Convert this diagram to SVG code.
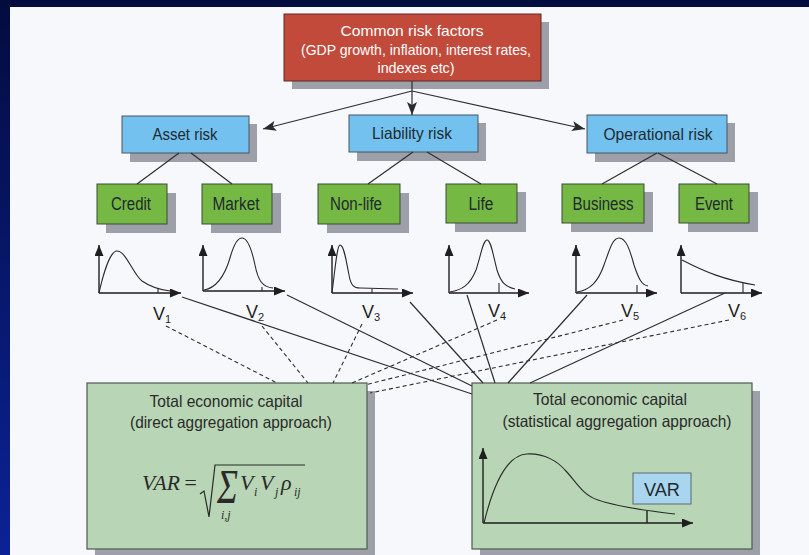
<svg xmlns="http://www.w3.org/2000/svg" width="809" height="555" viewBox="0 0 809 555">
<defs>
<linearGradient id="lg" x1="0" y1="0" x2="0" y2="1">
<stop offset="0" stop-color="#030c3f"/>
<stop offset="1" stop-color="#0b2296"/>
</linearGradient>
<marker id="ax" markerUnits="userSpaceOnUse" markerWidth="11" markerHeight="9" refX="11" refY="4.5" orient="auto">
<path d="M0,0 L11,4.5 L0,9 z" fill="#1e1e1e"/>
</marker>
<marker id="ar" markerUnits="userSpaceOnUse" markerWidth="13" markerHeight="10" refX="13" refY="5" orient="auto">
<path d="M0,0 L13,5 L0,10 L3,5 z" fill="#2a2a2a"/>
</marker>
<style>
.sh{fill:#9d9fa9}
.red{fill:#c24a3b;stroke:#5a2a22;stroke-width:1}
.blue{fill:#72c1ee;stroke:#4a5560;stroke-width:1}
.green{fill:#75b843;stroke:#3f4a38;stroke-width:1}
.big{fill:#b8d5b5;stroke:#4f5a50;stroke-width:1.2}
.var{fill:#a9d5ee;stroke:#5d6870;stroke-width:1}
.t{font-family:"Liberation Sans",Arial,sans-serif;fill:#1f2a30;text-anchor:middle}
.tw{font-family:"Liberation Sans",Arial,sans-serif;fill:#ffffff;text-anchor:middle;font-size:15px}
.tb{font-size:16.5px}
.tg{font-size:18px}
.tt{font-size:16.5px;fill:#2a2a2a}
.vl{font-family:"Liberation Sans",Arial,sans-serif;fill:#1f1f1f;font-size:18px}
.vs{font-size:11px}
.m{font-family:"Liberation Serif","Times New Roman",serif;fill:#2a2a2a;font-style:italic}
.ln{stroke:#2e2e2e;stroke-width:1.2;fill:none}
.ds{stroke:#2e2e2e;stroke-width:1.1;fill:none;stroke-dasharray:4,3}
.axl{stroke:#1e1e1e;stroke-width:1.4;fill:none}
.cv{stroke:#2a2a2a;stroke-width:1.1;fill:none}
</style>
</defs>

<rect x="0" y="0" width="809" height="555" fill="#f7f8fc"/>
<rect x="0" y="0" width="809" height="7" fill="#030c3f"/>
<rect x="0" y="0" width="10" height="555" fill="url(#lg)"/>

<g id="n-common">
<rect class="sh" x="292" y="22" width="257" height="67"/>
<rect class="red" x="284" y="14" width="257" height="67"/>
<text class="tw" x="412" y="36" textLength="143" lengthAdjust="spacingAndGlyphs">Common risk factors</text>
<text class="tw" x="416" y="55" textLength="230" lengthAdjust="spacingAndGlyphs">(GDP growth, inflation, interest rates,</text>
<text class="tw" x="416" y="73" textLength="77" lengthAdjust="spacingAndGlyphs">indexes etc)</text>
</g>

<g id="n-asset">
<rect class="sh" x="130" y="124" width="127" height="38"/>
<rect class="blue" x="122" y="116" width="127" height="37"/>
<text class="t tb" x="185" y="140" textLength="65" lengthAdjust="spacingAndGlyphs">Asset risk</text>
</g>
<g id="n-liability">
<rect class="sh" x="357" y="123" width="129" height="38"/>
<rect class="blue" x="349" y="115" width="129" height="37"/>
<text class="t tb" x="412" y="139" textLength="80" lengthAdjust="spacingAndGlyphs">Liability risk</text>
</g>
<g id="n-operational">
<rect class="sh" x="595" y="123" width="140" height="39"/>
<rect class="blue" x="587" y="115" width="140" height="38"/>
<text class="t tb" x="658" y="140" textLength="109" lengthAdjust="spacingAndGlyphs">Operational risk</text>
</g>

<g id="n-credit">
<rect class="sh" x="106" y="193" width="70" height="40"/>
<rect class="green" x="97" y="184" width="70" height="40"/>
<text class="t tg" x="131" y="210" textLength="40" lengthAdjust="spacingAndGlyphs">Credit</text>
</g>
<g id="n-market">
<rect class="sh" x="211" y="193" width="70" height="40"/>
<rect class="green" x="202" y="184" width="70" height="40"/>
<text class="t tg" x="236" y="210" textLength="47" lengthAdjust="spacingAndGlyphs">Market</text>
</g>
<g id="n-nonlife">
<rect class="sh" x="327" y="193" width="82" height="40"/>
<rect class="green" x="318" y="184" width="82" height="40"/>
<text class="t tg" x="356" y="210" textLength="52" lengthAdjust="spacingAndGlyphs">Non-life</text>
</g>
<g id="n-life">
<rect class="sh" x="455" y="192" width="71" height="40"/>
<rect class="green" x="446" y="184" width="71" height="39"/>
<text class="t tg" x="481" y="210" textLength="25" lengthAdjust="spacingAndGlyphs">Life</text>
</g>
<g id="n-business">
<rect class="sh" x="571" y="192" width="82" height="40"/>
<rect class="green" x="562" y="184" width="82" height="39"/>
<text class="t tg" x="603" y="210" textLength="61" lengthAdjust="spacingAndGlyphs">Business</text>
</g>
<g id="n-event">
<rect class="sh" x="688" y="192" width="70" height="40"/>
<rect class="green" x="679" y="184" width="70" height="39"/>
<text class="t tg" x="714" y="210" textLength="38" lengthAdjust="spacingAndGlyphs">Event</text>
</g>

<g id="n-dist1">
<line class="axl" x1="99" y1="293" x2="99" y2="245" marker-end="url(#ax)"/>
<line class="axl" x1="99" y1="293" x2="181" y2="293" marker-end="url(#ax)"/>
<path class="cv" d="M99,293 C103,275 110,251 117,251 C126,251 133,274 142,281 C152,288 162,290 170,291"/>
<line class="cv" x1="158" y1="288" x2="158" y2="293"/>
<text class="vl" x="153" y="320">V<tspan class="vs" dy="3">1</tspan></text>
</g>
<g id="n-dist2">
<line class="axl" x1="203" y1="291" x2="203" y2="245" marker-end="url(#ax)"/>
<line class="axl" x1="203" y1="291" x2="285" y2="291" marker-end="url(#ax)"/>
<path class="cv" d="M204,290 C216,288 224,278 230,258 C235,240 239,238 242,238 C247,238 251,246 255,265 C258,280 262,287 273,288"/>
<line class="cv" x1="262" y1="287" x2="262" y2="291"/>
<text class="vl" x="246" y="318">V<tspan class="vs" dy="3">2</tspan></text>
</g>
<g id="n-dist3">
<line class="axl" x1="332" y1="293" x2="332" y2="245" marker-end="url(#ax)"/>
<line class="axl" x1="332" y1="293" x2="413" y2="293" marker-end="url(#ax)"/>
<path class="cv" d="M332,293 C335,270 337,245 340,245 C344,245 346,260 349,275 C351,286 354,288 360,288 L398,289"/>
<line class="cv" x1="372" y1="289" x2="372" y2="293"/>
<text class="vl" x="362" y="318">V<tspan class="vs" dy="3">3</tspan></text>
</g>
<g id="n-dist4">
<line class="axl" x1="449" y1="293" x2="449" y2="245" marker-end="url(#ax)"/>
<line class="axl" x1="449" y1="293" x2="529" y2="293" marker-end="url(#ax)"/>
<path class="cv" d="M450,292 C462,290 470,285 476,270 C481,255 483,240 487,240 C491,240 493,255 497,270 C501,283 506,287 515,289"/>
<line class="cv" x1="499" y1="283" x2="499" y2="293"/>
<text class="vl" x="488" y="317">V<tspan class="vs" dy="3">4</tspan></text>
</g>
<g id="n-dist5">
<line class="axl" x1="576" y1="293" x2="576" y2="245" marker-end="url(#ax)"/>
<line class="axl" x1="576" y1="293" x2="657" y2="293" marker-end="url(#ax)"/>
<path class="cv" d="M577,292 C590,290 598,282 604,265 C610,248 613,238 619,238 C626,238 630,250 634,265 C639,280 642,285 648,286"/>
<line class="cv" x1="637" y1="285" x2="637" y2="293"/>
<text class="vl" x="621" y="317">V<tspan class="vs" dy="3">5</tspan></text>
</g>
<g id="n-dist6">
<line class="axl" x1="681" y1="293" x2="681" y2="245" marker-end="url(#ax)"/>
<line class="axl" x1="681" y1="293" x2="762" y2="293" marker-end="url(#ax)"/>
<path class="cv" d="M682,260 C705,272 725,280 755,285"/>
<line class="cv" x1="743" y1="283" x2="743" y2="293"/>
<text class="vl" x="728" y="317">V<tspan class="vs" dy="3">6</tspan></text>
</g>

<g id="n-direct">
<rect class="sh" x="95" y="391" width="280" height="164"/>
<rect class="big" x="87" y="383" width="280" height="166"/>
<text class="t tt" x="226" y="407" textLength="153" lengthAdjust="spacingAndGlyphs">Total economic capital</text>
<text class="t tt" x="231" y="428" textLength="202" lengthAdjust="spacingAndGlyphs">(direct aggregation approach)</text>
<text class="m" x="142" y="490" font-size="22" textLength="38" lengthAdjust="spacingAndGlyphs">VAR</text>
<text class="m" x="183" y="490" font-size="22" font-style="normal">=</text>
<path d="M200,494 L204,491 L209,517 L215,465 L305,465" fill="none" stroke="#2a2a2a" stroke-width="1.2"/>
<text class="m" x="217" y="503" font-size="48" font-style="normal" textLength="21" lengthAdjust="spacingAndGlyphs">Σ</text>
<text class="m" x="221" y="519" font-size="12">i,j</text>
<text class="m" x="240" y="490" font-size="22">V</text>
<text class="m" x="254" y="496" font-size="12">i</text>
<text class="m" x="260" y="490" font-size="22">V</text>
<text class="m" x="275" y="496" font-size="12">j</text>
<text class="m" x="281" y="490" font-size="22" font-style="normal">ρ</text>
<text class="m" x="294" y="496" font-size="12">ij</text>
</g>

<g id="n-statistical">
<rect class="sh" x="480" y="391" width="280" height="164"/>
<rect class="big" x="472" y="383" width="280" height="166"/>
<text class="t tt" x="610" y="405" textLength="154" lengthAdjust="spacingAndGlyphs">Total economic capital</text>
<text class="t tt" x="617" y="427" textLength="229" lengthAdjust="spacingAndGlyphs">(statistical aggregation approach)</text>
<line class="axl" x1="483" y1="523" x2="483" y2="448" marker-end="url(#ax)"/>
<line class="axl" x1="483" y1="523" x2="693" y2="523" marker-end="url(#ax)"/>
<path class="cv" d="M484,523 C492,490 505,455 527,454 C545,453 558,462 565,470 C575,480 582,495 598,500 C615,506 640,510 675,514"/>
<line class="axl" x1="647" y1="511" x2="647" y2="523"/>
<g id="n-var">
<rect class="var" x="633" y="473" width="58" height="31"/>
<text class="t" x="662" y="496" font-size="18" textLength="36" lengthAdjust="spacingAndGlyphs">VAR</text>
</g>
</g>

<g id="connectors">
<line class="ln" x1="412" y1="81" x2="412" y2="115" marker-end="url(#ar)"/>
<line class="ln" x1="412" y1="91" x2="263" y2="129" marker-end="url(#ar)"/>
<line class="ln" x1="412" y1="91" x2="585" y2="129" marker-end="url(#ar)"/>
<line class="ln" x1="179" y1="153" x2="137" y2="184"/>
<line class="ln" x1="191" y1="153" x2="232" y2="184"/>
<line class="ln" x1="413" y1="152" x2="368" y2="184"/>
<line class="ln" x1="427" y1="152" x2="481" y2="184"/>
<line class="ln" x1="657" y1="153" x2="602" y2="184"/>
<line class="ln" x1="658" y1="153" x2="717" y2="184"/>
<line class="ln" x1="182" y1="297" x2="472" y2="394"/>
<line class="ln" x1="287" y1="295" x2="472" y2="386"/>
<line class="ln" x1="410" y1="302" x2="483" y2="383"/>
<line class="ln" x1="467" y1="295" x2="495" y2="383"/>
<line class="ln" x1="587" y1="295" x2="508" y2="383"/>
<line class="ln" x1="725" y1="293" x2="530" y2="383"/>
<line class="ds" x1="166" y1="326" x2="277" y2="383"/>
<line class="ds" x1="262" y1="326" x2="308" y2="383"/>
<line class="ds" x1="362" y1="324" x2="333" y2="383"/>
<line class="ds" x1="497" y1="320" x2="352" y2="383"/>
<line class="ds" x1="623" y1="320" x2="365" y2="385"/>
<line class="ds" x1="729" y1="320" x2="370" y2="393"/>
</g>
</svg>
